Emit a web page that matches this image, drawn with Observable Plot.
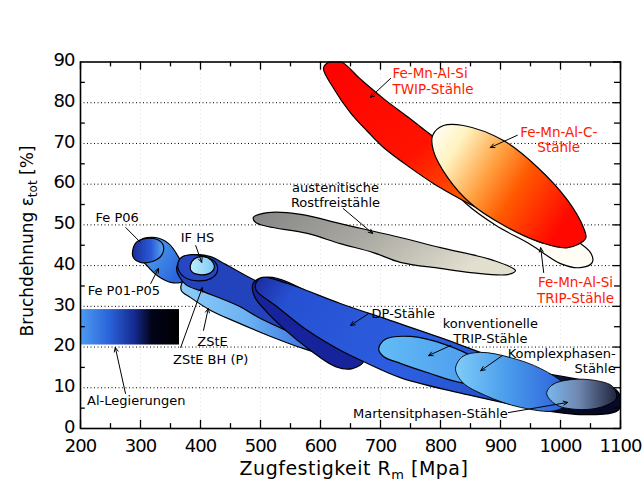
<!DOCTYPE html>
<html><head><meta charset="utf-8">
<script src="https://cdn.jsdelivr.net/npm/d3@7"></script>
<script src="https://cdn.jsdelivr.net/npm/@observablehq/plot@0.6"></script>
<style>
body{margin:0;background:#fff}
svg{display:block}
svg [aria-label="x-axis tick label"] text, svg [aria-label="y-axis tick label"] text{letter-spacing:-1px}
</style>
</head><body>
<div id="chart"></div>
<script>
// Axis ticks (Zugfestigkeit Rm in MPa, Bruchdehnung in %)
const xTickValues = [200,300,400,500,600,700,800,900,1000,1100];
const xMinorTicks = [250,350,450,550,650,750,850,950,1050];
const yTickValues = [0,10,20,30,40,50,60,70,80,90];
const yMinorTicks = [5,15,25,35,45,55,65,75,85];
const yGrid = [10,20,30,40,50,60,70,80];
const xGrid = [300,400,500,600,700,800,900,1000];

// Region outlines: [Rm MPa, elongation %]
const tripFeMnAlSi = [[800,64.6],[825,65.8],[883,60.9],[950,54.8],[1008,48.1],[1050,43.2],[1053,40.8],[1033,39.5],[1000,40.5],[950,45.2],[892,49.9],[842,55.3],[808,60.9]];
const twipFeMnAlSi = [[605,88.5],[615,90],[635,90],[665,86],[705,81],[750,76],[785,72],[850,65],[930,57],[990,50.5],[1000,47.5],[975,45.5],[915,50],[850,55],[790,60],[750,64],[705,69],[678,73],[650,77.5],[622,83.5]];
const feMnAlC = [[787,72],[805,74.4],[838,74.4],[905,70.7],[962,64.1],[1012,56],[1038,49.4],[1042,46.7],[1012,44.4],[967,45.7],[905,49.9],[850,55.3],[812,61.6],[788,68.3]];
const austenitic = [[488,51.8],[512,53],[567,52.6],[633,50.3],[733,46.9],[800,44.4],[888,41.3],[925,38.8],[912,37.8],[850,38.3],[800,39.3],[733,40.8],[688,43.2],[633,45.4],[578,47.9],[512,49.6],[492,50.6]];
const feP01P05 = [[300,46.2],[325,46.9],[347,45.4],[363,42.2],[373,38.8],[370,36.1],[350,35.9],[330,37.3],[312,39.8],[298,42.7]];
const feP06 = [[287,43.7],[293,45.7],[310,46.7],[328,46.4],[338,44.9],[335,42.5],[320,41],[300,40.8],[288,42]];
const zstE = [[370,35.9],[387,36.6],[417,35.1],[483,30.9],[567,26],[633,22.1],[677,20.4],[680,17.9],[663,16.5],[628,17.2],[572,19.6],[517,22.6],[462,26],[417,29],[383,32.2],[368,33.9]];
const zstEBH = [[360,39.3],[372,42],[392,42.7],[417,42.2],[442,40.3],[492,36.3],[567,31.9],[633,27.8],[670,23.3],[673,20.4],[650,18.7],[600,20.4],[550,23.6],[500,27],[462,30.2],[405,33.6],[375,35.4]];
const ifhsRim = [[362,39.8],[368,42],[387,42.7],[408,42.2],[425,40.8],[428,38.6],[417,36.8],[392,36.3],[372,37.3]];
const ifhs = [[383,40],[390,41.7],[405,42.2],[418,41.3],[423,39.5],[415,38.1],[398,37.8],[385,38.6]];
const dpCap = [[487,35.4],[497,36.8],[520,37.1],[558,35.1],[608,30.7],[650,25.3],[673,20.4],[673,16.7],[653,14.7],[625,15.2],[583,19.2],[542,24.1],[508,29],[490,32.4]];
const dpSteel = [[492,35.6],[503,37.1],[545,35.6],[633,30.7],[717,26.5],[800,22.3],[872,18.4],[955,14.2],[1038,11.8],[1092,9.6],[1101,7],[1096,4.5],[1038,3.4],[955,4.9],[845,8.3],[733,12.5],[675,16.2],[633,19.2],[578,24.1],[525,30.2],[493,33.9]];
const convTrip = [[697,19.6],[708,21.9],[750,22.6],[808,20.6],[858,17.2],[883,13.8],[875,11.3],[833,11.3],[783,13.5],[733,16],[705,17.7]];
const komplex = [[825,14.7],[837,17.7],[867,18.7],[917,17.4],[967,14.7],[1008,10.6],[1017,6.9],[992,4.4],[933,5.2],[875,8.1],[837,11.3]];
const martensit = [[977,8.6],[987,10.8],[1017,12],[1058,11.8],[1087,10.3],[1093,7.4],[1067,5.2],[1025,4.7],[992,5.9]];
const alAlloys = [{x1: 200, x2: 365, y1: 20.5, y2: 29.2}];

// Annotations
const redLabels = [
  {text: "Fe-Mn-Al-Si\nTWIP-Stähle", x: 720, y: 85.3, anchor: "start"},
  {text: "Fe-Mn-Al-C-\nStähle", x: 997, y: 71.0, anchor: "middle"},
  {text: "Fe-Mn-Al-Si\nTRIP-Stähle", x: 1025, y: 34.0, anchor: "middle"}
];
const blackLabels = [
  {text: "austenitische\nRostfreistähle", x: 625, y: 57.5, anchor: "middle"},
  {text: "Fe P06", x: 225, y: 51.8, anchor: "start"},
  {text: "Fe P01-P05", x: 212, y: 33.9, anchor: "start"},
  {text: "IF HS", x: 395, y: 46.9, anchor: "middle"},
  {text: "ZStE", x: 420, y: 21.4, anchor: "middle"},
  {text: "ZStE BH (P)", x: 417, y: 16.9, anchor: "middle"},
  {text: "Al-Legierungen", x: 293, y: 6.9, anchor: "middle"},
  {text: "DP-Stähle", x: 738, y: 28.2, anchor: "middle"},
  {text: "konventionelle\nTRIP-Stähle", x: 883, y: 23.9, anchor: "middle"},
  {text: "Komplexphasen-\nStähle", x: 1092, y: 16.7, anchor: "end"},
  {text: "Martensitphasen-Stähle", x: 783, y: 3.7, anchor: "middle"}
];
const arrows = [
  {x1: 717, y1: 86.0, x2: 683, y2: 81.3},
  {x1: 928, y1: 72.0, x2: 883, y2: 69.0},
  {x1: 972, y1: 38.3, x2: 967, y2: 44.4},
  {x1: 638, y1: 54.0, x2: 687, y2: 47.9},
  {x1: 317, y1: 35.6, x2: 330, y2: 39.3},
  {x1: 392, y1: 44.9, x2: 402, y2: 40.8},
  {x1: 405, y1: 24.1, x2: 413, y2: 29.5},
  {x1: 367, y1: 19.9, x2: 403, y2: 34.6},
  {x1: 275, y1: 8.6, x2: 258, y2: 19.9},
  {x1: 680, y1: 28.2, x2: 650, y2: 25.3},
  {x1: 817, y1: 20.4, x2: 780, y2: 17.9},
  {x1: 903, y1: 17.9, x2: 867, y2: 14.2},
  {x1: 913, y1: 3.9, x2: 1012, y2: 6.4}
];
const plainLinks = [{x1: 275, y1: 49.4, x2: 300, y2: 45.7}];

const shape = (pts, fill, extra = {}) => Plot.line(pts, {
  curve: "catmull-rom-closed", fill, stroke: "#000", strokeWidth: 1.2, clip: true, ...extra
});

const txt = (data, anchor, fill, size) => Plot.text(data, {
  filter: d => d.anchor === anchor, x: "x", y: "y", text: "text",
  textAnchor: anchor, fill, fontSize: size, fontFamily: "DejaVu Sans", lineHeight: 1.15
});

const chart = Plot.plot({
  width: 644, height: 492,
  marginLeft: 80, marginRight: 24, marginTop: 61.5, marginBottom: 64,
  x: {domain: [200, 1100]},
  y: {domain: [0, 90]},
  marks: [
    Plot.ruleX(xGrid, {stroke: "#dcdcdc", strokeDasharray: "1,3"}),
    Plot.ruleY(yGrid, {stroke: "#000", strokeDasharray: "1,2.5"}),
    Plot.rect(alAlloys, {x1: "x1", x2: "x2", y1: "y1", y2: "y2", fill: "url(#gAl)"}),
    shape(tripFeMnAlSi, "#fffdf4"),
    shape(twipFeMnAlSi, "url(#gTwip)"),
    shape(feMnAlC, "url(#gFeMnAlC)"),
    shape(austenitic, "url(#gGrey)"),
    shape(feP01P05, "url(#gFeP0105)"),
    shape(feP06, "url(#gFeP06)"),
    shape(zstE, "url(#gZstE)"),
    shape(zstEBH, "#2343bd"),
    shape(ifhsRim, "#2746c4"),
    shape(ifhs, "url(#gIfhs)"),
    shape(dpCap, "#17239a"),
    shape(dpSteel, "url(#gDP)"),
    shape(convTrip, "url(#gConv)"),
    shape(komplex, "url(#gKomplex)", {strokeWidth: 0.9}),
    shape(martensit, "url(#gMart)", {strokeWidth: 0.9}),
    Plot.ruleX(xTickValues, {y1: 0, y2: 2, stroke: "#000", strokeWidth: 1.3}),
    Plot.ruleX(xMinorTicks, {y1: 0, y2: 1.2, stroke: "#000", strokeWidth: 1.3}),
    Plot.ruleX(xTickValues, {y1: 88, y2: 90, stroke: "#000", strokeWidth: 1.3}),
    Plot.ruleX(xMinorTicks, {y1: 88.8, y2: 90, stroke: "#000", strokeWidth: 1.3}),
    Plot.ruleY(yMinorTicks, {x1: 200, x2: 208, stroke: "#000", strokeWidth: 1.3}),
    Plot.ruleY(yMinorTicks, {x1: 1090, x2: 1100, stroke: "#000", strokeWidth: 1.3}),
    Plot.ruleY(yTickValues, {x1: 1088, x2: 1100, stroke: "#000", strokeWidth: 1.3}),
    Plot.frame({stroke: "#000", strokeWidth: 1.6}),
    Plot.axisX({ticks: xTickValues, tickSize: 0, tickPadding: 11, label: null, fontSize: 18, fontFamily: "DejaVu Sans", tickFormat: d => String(d)}),
    Plot.axisY({ticks: yTickValues, tickSize: 0, tickPadding: 6, dy: -1.5, label: null, fontSize: 18, fontFamily: "DejaVu Sans", tickFormat: d => String(d)}),
    Plot.arrow(arrows, {x1: "x1", y1: "y1", x2: "x2", y2: "y2", stroke: "#000", strokeWidth: 1, headLength: 7, headAngle: 50}),
    Plot.link(plainLinks, {x1: "x1", y1: "y1", x2: "x2", y2: "y2", stroke: "#000", strokeWidth: 1}),
    txt(redLabels, "start", "#ff1a00", 13.5),
    txt(redLabels, "middle", "#ff1a00", 13.5),
    txt(blackLabels, "start", "#000", 13),
    txt(blackLabels, "middle", "#000", 13),
    txt(blackLabels, "end", "#000", 13)
  ]
});

const svg = d3.select(chart);
const defs = svg.insert("defs", ":first-child");
function grad(id, stops, x2 = 1, y2 = 0) {
  const g = defs.append("linearGradient").attr("id", id)
    .attr("x1", 0).attr("y1", 0).attr("x2", x2).attr("y2", y2);
  stops.forEach(([o, c]) => g.append("stop").attr("offset", o).attr("stop-color", c));
}
grad("gTwip", [[0,"#ff0000"],[0.45,"#ff1400"],[0.7,"#ff6000"],[0.88,"#ffb040"],[1,"#fff0c0"]], 1, 1);
grad("gFeMnAlC", [[0,"#ffffff"],[0.2,"#fff3c0"],[0.45,"#ffa040"],[0.65,"#ff5a00"],[1,"#ff0800"]], 1, 0.5);
grad("gGrey", [[0,"#858585"],[0.5,"#aaa9a2"],[1,"#e2dfcf"]], 1, 0.3);
grad("gFeP0105", [[0,"#5ab0f4"],[1,"#2a66dc"]], 1, 0.6);
grad("gFeP06", [[0,"#1a2e98"],[0.6,"#2a5ad8"],[1,"#5aa8f0"]]);
grad("gZstE", [[0,"#8ccdf8"],[0.35,"#6cb2f2"],[0.7,"#3870e0"],[1,"#2a58d6"]]);
grad("gIfhs", [[0,"#c0ecfc"],[1,"#7ccaf4"]]);
grad("gDP", [[0,"#1a2a9e"],[0.12,"#2650d2"],[0.55,"#2c5fe0"],[0.8,"#2550cc"],[0.92,"#101c70"],[1,"#050a28"]], 1, 0.25);
grad("gConv", [[0,"#62bcf6"],[1,"#4a96ec"]]);
grad("gKomplex", [[0,"#80ccf8"],[0.45,"#4a9cec"],[1,"#2a5ad8"]]);
grad("gMart", [[0,"#78b8f0"],[0.45,"#7088b0"],[1,"#20243c"]]);
grad("gAl", [[0,"#4c9cf2"],[0.3,"#2a62d8"],[0.55,"#142a90"],[0.72,"#02041a"],[1,"#000000"]]);

// Axis titles with subscripts
const yt = svg.append("text").attr("transform", "translate(33,241) rotate(-90)")
  .attr("text-anchor", "middle").attr("font-family", "DejaVu Sans").attr("font-size", 17).attr("fill", "#000");
yt.append("tspan").text("Bruchdehnung ε");
yt.append("tspan").attr("font-size", 12).attr("dy", 4).text("tot");
yt.append("tspan").attr("dy", -4).text(" [%]");
const xt = svg.append("text").attr("x", 354).attr("y", 475)
  .attr("text-anchor", "middle").attr("font-family", "DejaVu Sans").attr("font-size", 19)
  .attr("letter-spacing", "0.5px").attr("fill", "#000");
xt.append("tspan").text("Zugfestigkeit R");
xt.append("tspan").attr("font-size", 13).attr("dy", 4).text("m");
xt.append("tspan").attr("dy", -4).text(" [Mpa]");

document.getElementById("chart").append(chart);
</script>
</body></html>
